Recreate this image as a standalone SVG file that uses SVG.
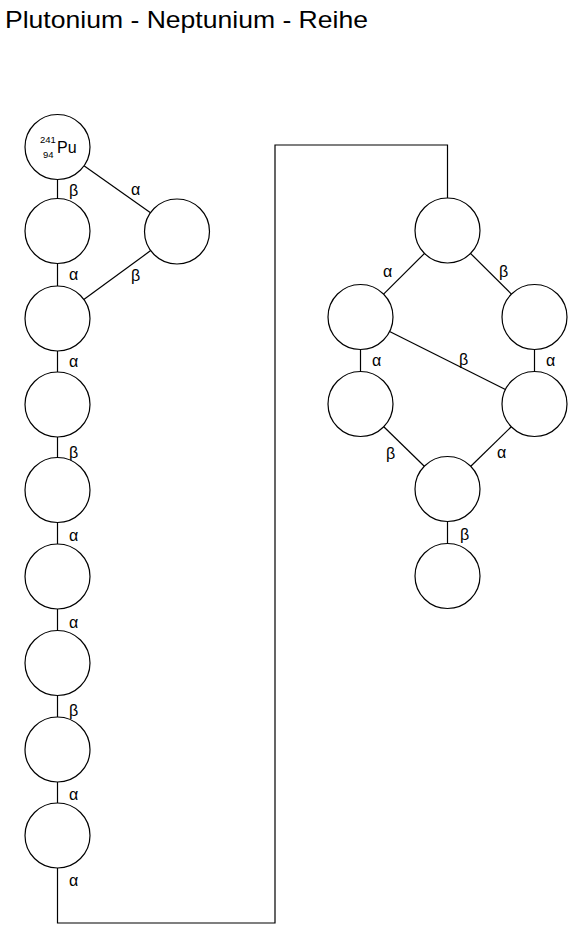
<svg xmlns="http://www.w3.org/2000/svg" width="578" height="936" viewBox="0 0 578 936">
<style>
.n{fill:#fff;stroke:#000;stroke-width:1.2}
.c{fill:none;stroke:#000;stroke-width:1.2}
.l{font-family:"Liberation Sans",Arial,sans-serif;font-size:16px;fill:#000}
.t{font-family:"Liberation Sans",Arial,sans-serif;font-size:24.5px;fill:#000}
.s{font-family:"Liberation Sans",Arial,sans-serif;font-size:9.5px;fill:#000}
</style>
<rect width="578" height="936" fill="#fff"/>
<text class="t" x="5" y="28" textLength="363" lengthAdjust="spacingAndGlyphs">Plutonium - Neptunium - Reihe</text>
<g id="connectors">
<line class="c" x1="57.5" y1="179.5" x2="57.5" y2="198.5"/>
<line class="c" x1="84" y1="165.8" x2="150.5" y2="212.8"/>
<line class="c" x1="150.7" y1="250.6" x2="83.8" y2="299.4"/>
<line class="c" x1="57.5" y1="263.5" x2="57.5" y2="286"/>
<line class="c" x1="57.5" y1="351" x2="57.5" y2="372"/>
<line class="c" x1="57.5" y1="437" x2="57.5" y2="457.5"/>
<line class="c" x1="57.5" y1="522.5" x2="57.5" y2="544"/>
<line class="c" x1="57.5" y1="609" x2="57.5" y2="630.5"/>
<line class="c" x1="57.5" y1="695.5" x2="57.5" y2="717"/>
<line class="c" x1="57.5" y1="782" x2="57.5" y2="803"/>
<polyline class="c" points="57.5,868 57.5,923 275,923 275,145 447.5,145 447.5,198"/>
<line class="c" x1="424.5" y1="253.4" x2="383.6" y2="294.1"/>
<line class="c" x1="470.5" y1="253.4" x2="511.4" y2="294.1"/>
<line class="c" x1="360.5" y1="349.5" x2="360.5" y2="371.5"/>
<line class="c" x1="534.5" y1="349.5" x2="534.5" y2="371.5"/>
<line class="c" x1="389.6" y1="331.5" x2="505.4" y2="389.5"/>
<line class="c" x1="383.8" y1="426.7" x2="424.3" y2="466.3"/>
<line class="c" x1="511.3" y1="426.7" x2="470.8" y2="466.3"/>
<line class="c" x1="447.5" y1="521.5" x2="447.5" y2="543.5"/>
</g>
<g id="labels">
<text class="l" x="69" y="196">β</text>
<text class="l" x="131" y="195">α</text>
<text class="l" x="69" y="280">α</text>
<text class="l" x="131" y="281">β</text>
<text class="l" x="69" y="367">α</text>
<text class="l" x="69" y="458">β</text>
<text class="l" x="69" y="541">α</text>
<text class="l" x="69" y="628">α</text>
<text class="l" x="69" y="716">β</text>
<text class="l" x="69" y="800">α</text>
<text class="l" x="69" y="886">α</text>
<text class="l" x="383" y="277">α</text>
<text class="l" x="499" y="277">β</text>
<text class="l" x="372" y="366">α</text>
<text class="l" x="459" y="365">β</text>
<text class="l" x="546" y="366">α</text>
<text class="l" x="386" y="459">β</text>
<text class="l" x="497" y="458">α</text>
<text class="l" x="460" y="540">β</text>
</g>
<g id="pu241"><circle class="n" cx="57.5" cy="147" r="32.5"/>
<text class="s" x="40" y="143">241</text><text class="s" x="43" y="157.5">94</text>
<text class="l" x="57" y="152.5">Pu</text></g>
<g id="L2"><circle class="n" cx="57.5" cy="231" r="32.5"/></g>
<g id="T"><circle class="n" cx="177" cy="231.5" r="32.5"/></g>
<g id="L3"><circle class="n" cx="57.5" cy="318.5" r="32.5"/></g>
<g id="L4"><circle class="n" cx="57.5" cy="404.5" r="32.5"/></g>
<g id="L5"><circle class="n" cx="57.5" cy="490" r="32.5"/></g>
<g id="L6"><circle class="n" cx="57.5" cy="576.5" r="32.5"/></g>
<g id="L7"><circle class="n" cx="57.5" cy="663" r="32.5"/></g>
<g id="L8"><circle class="n" cx="57.5" cy="749.5" r="32.5"/></g>
<g id="L9"><circle class="n" cx="57.5" cy="835.5" r="32.5"/></g>
<g id="R1"><circle class="n" cx="447.5" cy="230.5" r="32.5"/></g>
<g id="R2"><circle class="n" cx="360.5" cy="317" r="32.5"/></g>
<g id="R3"><circle class="n" cx="534.5" cy="317" r="32.5"/></g>
<g id="R4"><circle class="n" cx="360.5" cy="404" r="32.5"/></g>
<g id="R5"><circle class="n" cx="534.5" cy="404" r="32.5"/></g>
<g id="R6"><circle class="n" cx="447.5" cy="489" r="32.5"/></g>
<g id="R7"><circle class="n" cx="447.5" cy="576" r="32.5"/></g>
</svg>
